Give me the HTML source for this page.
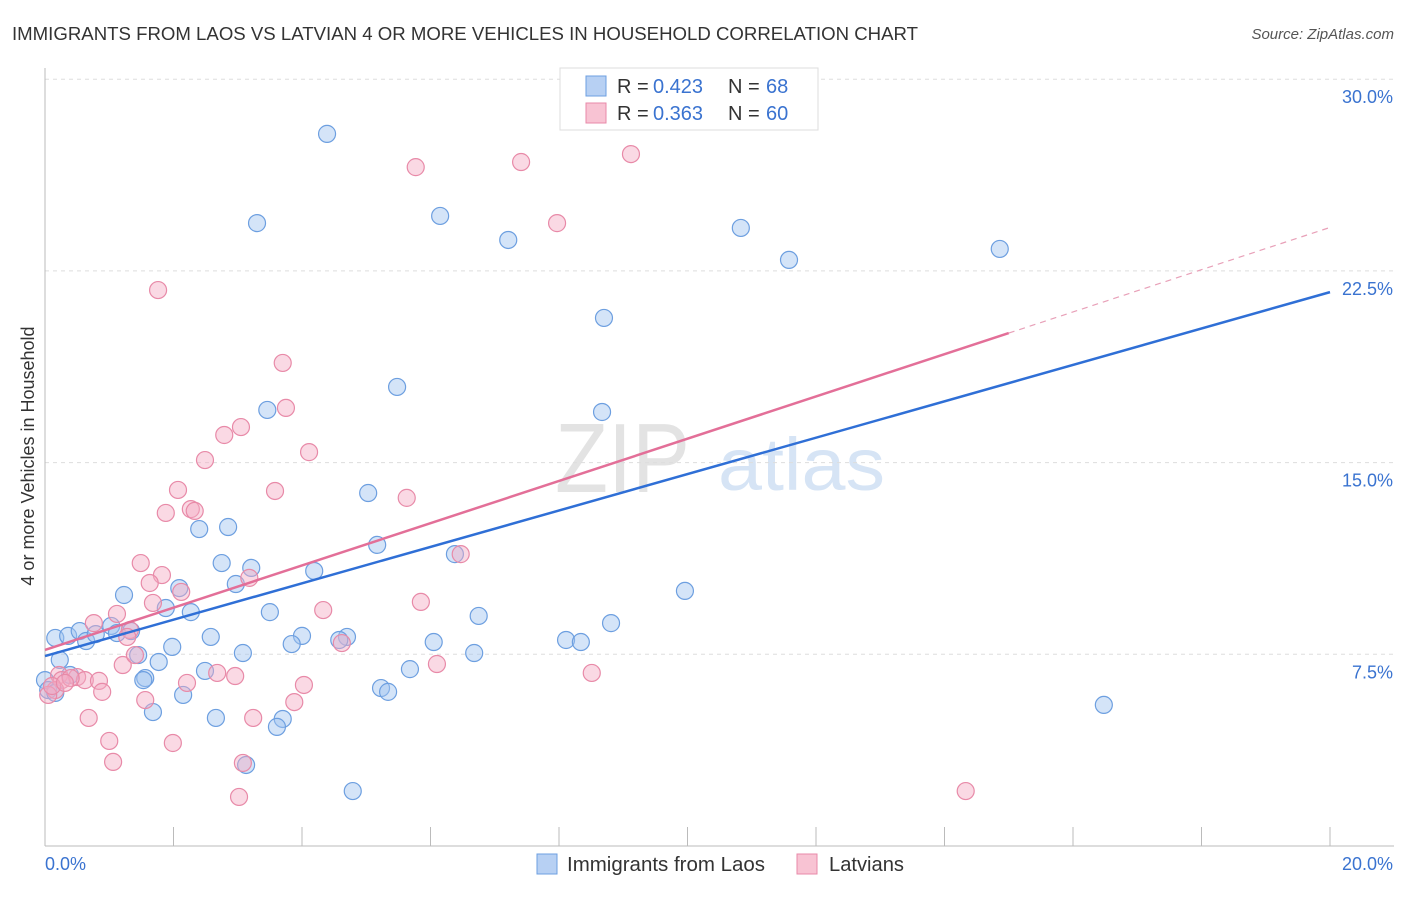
<!DOCTYPE html>
<html><head><meta charset="utf-8"><style>
body{margin:0;background:#fff;font-family:"Liberation Sans",sans-serif;}
svg text{font-family:"Liberation Sans",sans-serif;}
</style></head><body>
<svg id="chart" width="1406" height="892" xmlns="http://www.w3.org/2000/svg">
<text x="12" y="40" font-size="18.5" fill="#333" textLength="906" lengthAdjust="spacingAndGlyphs">IMMIGRANTS FROM LAOS VS LATVIAN 4 OR MORE VEHICLES IN HOUSEHOLD CORRELATION CHART</text>
<text x="1394" y="39" font-size="15" fill="#555" text-anchor="end" font-style="italic">Source: ZipAtlas.com</text>
<g>
<text x="555" y="492" font-size="98" fill="#e3e3e3" font-family="Liberation Serif, serif" textLength="135" lengthAdjust="spacingAndGlyphs">ZIP</text>
<text x="718" y="490" font-size="74" fill="#d6e4f5" textLength="167" lengthAdjust="spacingAndGlyphs">atlas</text>
</g>
<g id="grid"></g>
<g id="axes"></g>
<g id="pts"></g>
<g id="lines"></g>
<text transform="translate(34,456) rotate(-90)" font-size="18" fill="#333" text-anchor="middle">4 or more Vehicles in Household</text>
<g>
<rect x="560" y="68" width="258" height="62" fill="#fff" stroke="#ddd"/>
<rect x="586" y="76" width="20" height="20" fill="#b7d0f3" stroke="#6d9fe0"/>
<rect x="586" y="103" width="20" height="20" fill="#f8c3d3" stroke="#e88aa8"/>
<text x="617" y="93" font-size="20" fill="#333">R = </text>
<text x="653" y="93" font-size="20" fill="#3a73d0">0.423</text>
<text x="728" y="93" font-size="20" fill="#333">N = </text>
<text x="766" y="93" font-size="20" fill="#3a73d0">68</text>
<text x="617" y="120" font-size="20" fill="#333">R = </text>
<text x="653" y="120" font-size="20" fill="#3a73d0">0.363</text>
<text x="728" y="120" font-size="20" fill="#333">N = </text>
<text x="766" y="120" font-size="20" fill="#3a73d0">60</text>
</g>
<g>
<rect x="537" y="854" width="20" height="20" fill="#b7d0f3" stroke="#6d9fe0"/>
<text x="567" y="871" font-size="20" fill="#333" textLength="198" lengthAdjust="spacingAndGlyphs">Immigrants from Laos</text>
<rect x="797" y="854" width="20" height="20" fill="#f8c3d3" stroke="#e88aa8"/>
<text x="829" y="871" font-size="20" fill="#333" textLength="75" lengthAdjust="spacingAndGlyphs">Latvians</text>
</g>
</svg>
<script>
const blueX=[4.39,3.30,6.15,7.21,10.83,11.58,14.86,8.70,5.48,3.46,8.67,5.03,2.40,2.85,5.17,6.38,2.75,3.21,4.19,2.97,2.09,1.23,9.96,1.88,2.27,3.50,6.75,8.81,0.16,0.36,0.54,0.64,0.79,1.03,1.12,1.34,2.58,4.00,4.70,4.58,6.05,8.11,8.34,1.98,3.84,3.08,1.45,6.68,0.23,1.77,2.49,5.68,1.56,1.53,0.39,2.15,5.23,5.34,1.68,2.66,3.70,3.61,3.13,4.79,16.48,0,0.05,0.16];
const blueY=[27.86,24.37,24.65,23.71,24.18,22.93,23.36,20.66,17.96,17.06,16.98,13.81,12.40,12.48,11.78,11.42,11.07,10.88,10.76,10.25,10.09,9.82,9.98,9.31,9.15,9.15,9.00,8.72,8.14,8.22,8.41,8.02,8.29,8.61,8.33,8.41,8.18,8.22,8.18,8.06,7.98,8.06,7.98,7.79,7.90,7.55,7.47,7.55,7.28,7.20,6.85,6.92,6.57,6.49,6.69,5.91,6.18,6.03,5.24,5.01,4.97,4.66,3.17,2.15,5.52,6.49,6.10,5.99];
const pinkX=[9.12,7.41,5.77,7.97,1.76,3.70,3.75,3.05,2.79,2.49,4.11,2.07,3.58,5.63,2.27,1.88,2.33,1.49,1.82,6.47,1.63,3.18,2.12,4.33,1.68,5.85,1.12,0.76,1.32,1.28,4.62,1.21,6.10,2.68,2.96,8.51,0.22,0.26,0.50,0.62,0.40,0.84,2.21,4.03,0.16,0.05,0.89,1.56,3.88,0.68,3.24,1.00,1.99,1.06,3.08,3.02,14.33,0.11,0.31,1.40];
const pinkY=[27.07,26.76,26.56,24.37,21.75,18.90,17.14,16.39,16.08,15.10,15.41,13.93,13.89,13.62,13.18,13.03,13.11,11.07,10.60,11.42,10.29,10.49,9.94,9.23,9.51,9.55,9.08,8.72,8.45,8.18,7.94,7.08,7.12,6.77,6.65,6.77,6.69,6.49,6.61,6.49,6.57,6.46,6.38,6.30,6.10,5.91,6.03,5.71,5.63,5.01,5.01,4.11,4.03,3.29,3.25,1.92,2.15,6.26,6.38,7.47];
const yTicks=[7.5,15,22.5,30];
const yTickLabels=["7.5%","15.0%","22.5%","30.0%"];
const blueTrend=[7.43,21.67];
const pinkTrend=[7.67,24.2];
const pinkSolidEnd=15;
const NS="http://www.w3.org/2000/svg";
const X=v=>45+v*64.25, Y=v=>846-v*25.56;
function mk(t,a,p){const e=document.createElementNS(NS,t);for(const k in a)e.setAttribute(k,a[k]);p.appendChild(e);return e;}
const grid=document.getElementById('grid'),axes=document.getElementById('axes'),pts=document.getElementById('pts'),lines=document.getElementById('lines');
yTicks.forEach((t,i)=>{
 const l=mk('line',{x1:45,x2:1394,y1:Y(t),y2:Y(t),stroke:'#ddd','stroke-dasharray':'4,4'},grid);
 
 
 const tx=mk('text',{x:1393,y:Y(t)+24,'font-size':18,fill:'#3a73d0','text-anchor':'end'},axes);
 tx.textContent=yTickLabels[i];
 
 
});
const ax=mk('line',{x1:45,x2:1394,y1:846,y2:846,stroke:'#bbb'},axes);


const ay=mk('line',{x1:45,x2:45,y1:68,y2:846,stroke:'#bbb'},axes);


for(let i=0;i<=10;i++){const t=mk('line',{x1:X(i*2),x2:X(i*2),y1:827,y2:846,stroke:'#bbb'},axes);
 
 }
const x0=mk('text',{x:45,y:870,'font-size':18,fill:'#3a73d0'},axes);x0.textContent='0.0%';


const x1=mk('text',{x:1393,y:870,'font-size':18,fill:'#3a73d0','text-anchor':'end'},axes);x1.textContent='20.0%';


blueX.forEach((v,i)=>{const c=mk('circle',{cx:X(v),cy:Y(blueY[i]),r:8.5,fill:'rgba(160,195,240,0.45)',stroke:'#6d9fe0','stroke-width':1.2},pts);
 
 });
pinkX.forEach((v,i)=>{const c=mk('circle',{cx:X(v),cy:Y(pinkY[i]),r:8.5,fill:'rgba(245,170,195,0.45)',stroke:'#e88aa8','stroke-width':1.2},pts);
 
 });
const bl=mk('line',{x1:X(0),y1:Y(blueTrend[0]),x2:X(20),y2:Y(blueTrend[1]),stroke:'#2f6fd6','stroke-width':2.5},lines);


const pm=pinkTrend[0]+(pinkTrend[1]-pinkTrend[0])*pinkSolidEnd/20;
const pl=mk('line',{x1:X(0),y1:Y(pinkTrend[0]),x2:X(pinkSolidEnd),y2:Y(pm),stroke:'#e36f98','stroke-width':2.5},lines);


const pd=mk('line',{x1:X(pinkSolidEnd),y1:Y(pm),x2:X(20),y2:Y(pinkTrend[1]),stroke:'#e8a0b8','stroke-width':1.2,'stroke-dasharray':'6,5'},lines);


</script>
</body></html>
